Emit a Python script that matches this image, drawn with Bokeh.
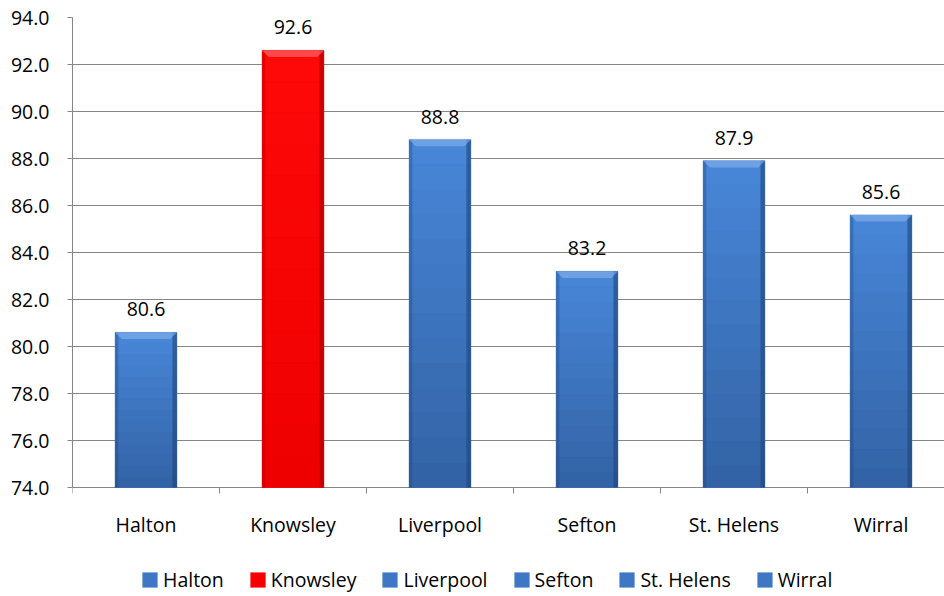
import math
from bokeh.plotting import figure
from bokeh.models import (Range1d, FixedTicker, NumeralTickFormatter, Legend,
                          LegendItem, ColumnDataSource)
from bokeh.core.properties import value
from bokeh.embed import file_html
from bokeh.resources import INLINE

# Percentages by local authority
areas = ["Halton", "Knowsley", "Liverpool", "Sefton", "St. Helens", "Wirral"]
values = [80.6, 92.6, 88.8, 83.2, 87.9, 85.6]
top_colors = ["#4887D8", "#FF0808", "#4887D8", "#4887D8", "#4887D8", "#4887D8"]
bottom_colors = ["#3262A5", "#EE0000", "#3262A5", "#3262A5", "#3262A5", "#3262A5"]
swatch_colors = ["#3E78C4", "#F80000", "#3E78C4", "#3E78C4", "#3E78C4", "#3E78C4"]
edge_colors = ["#1F4477", "#A80000", "#1F4477", "#1F4477", "#1F4477", "#1F4477"]
bevel_colors = ["#8DB8EE", "#FF8080", "#8DB8EE", "#8DB8EE", "#8DB8EE", "#8DB8EE"]
y_ticks = [74, 76, 78, 80, 82, 84, 86, 88, 90, 92, 94]

FONT = "Open Sans"
FS = "19.5px"
AXIS_GREY = "#868686"
n = len(areas)
base = y_ticks[0]
centers = [i + 0.5 for i in range(n)]
boundaries = list(range(n + 1))
half = 0.21

# plot area: 470 px for the value axis, plus room underneath for the
# category labels and the legend
PX_PER_UNIT = 470 / (y_ticks[-1] - base)
y_low = base - 109 / PX_PER_UNIT


def hex_rgb(h):
    return tuple(int(h[k:k + 2], 16) for k in (1, 3, 5))


def mix(c0, c1, t):
    a, b = hex_rgb(c0), hex_rgb(c1)
    return "#%02x%02x%02x" % tuple(round(a[k] + (b[k] - a[k]) * t) for k in range(3))


p = figure(frame_width=872, frame_height=579, output_backend="svg",
           toolbar_location=None,
           x_range=Range1d(0, 872 / 147), y_range=Range1d(y_low, y_ticks[-1]),
           min_border_left=72, min_border_top=17, min_border_right=0,
           min_border_bottom=0)
p.outline_line_color = None
p.background_fill_color = "white"
p.border_fill_color = "white"

p.xgrid.grid_line_color = None
p.ygrid.ticker = FixedTicker(ticks=y_ticks)
p.ygrid.grid_line_color = AXIS_GREY
p.ygrid.grid_line_width = 1
p.ygrid.level = "underlay"

left = [c - half for c in centers]
right = [c + half for c in centers]
src = ColumnDataSource(dict(
    area=areas, value=values, x=centers, left=left, right=right,
    base=[base] * n, color=swatch_colors,
    label=[f"{v:.1f}" for v in values],
))

# bar bodies (also used for the legend swatches)
bars = p.quad(left="left", right="right", bottom="base", top="value",
              fill_color="color", line_color=None, source=src)

# vertical shading: bands from the bottom colour up to the top colour
bands = 14
bl, br, bb, bt, bc = [], [], [], [], []
for i, v in enumerate(values):
    for j in range(bands):
        bl.append(left[i])
        br.append(right[i])
        bb.append(base + (v - base) * j / bands)
        bt.append(base + (v - base) * (j + 1) / bands)
        bc.append(mix(bottom_colors[i], top_colors[i], (j + 0.5) / bands))
p.quad(left=bl, right=br, bottom=bb, top=bt, fill_color=bc, line_color=bc,
       line_width=0.5)

# darker sides for a rounded look
ew_l, ew_r = 0.022, 0.03
p.quad(left=left, right=[l + ew_l for l in left], bottom=[base] * n, top=values,
       fill_color=edge_colors, fill_alpha=0.35, line_color=None)
p.quad(left=[r - ew_r for r in right], right=right, bottom=[base] * n, top=values,
       fill_color=edge_colors, fill_alpha=0.6, line_color=None)

# lighter bevel on the top face
dx, dy = 0.045, 0.28
p.patches(xs=[[l, r, r - dx, l + dx] for l, r in zip(left, right)],
          ys=[[v, v, v - dy, v - dy] for v in values],
          fill_color=bevel_colors, fill_alpha=0.55, line_color=None)

# value labels
p.text(x="x", y="value", text="label", source=src, text_align="center",
       text_baseline="alphabetic", y_offset=-23, text_font_size=FS,
       text_font=value(FONT), text_color="black")

# y axis, its line limited to the value range
p.yaxis.ticker = FixedTicker(ticks=y_ticks)
p.yaxis.bounds = (base, y_ticks[-1])
p.yaxis.formatter = NumeralTickFormatter(format="0.0")
p.yaxis.axis_line_color = AXIS_GREY
p.yaxis.major_tick_line_color = AXIS_GREY
p.yaxis.major_tick_out = 5
p.yaxis.major_tick_in = 0
p.yaxis.minor_tick_line_color = None
p.yaxis.major_label_standoff = 18
p.yaxis.major_label_text_font_size = FS
p.yaxis.major_label_text_font = FONT
p.yaxis.major_label_text_color = "black"

# category axis along the 74.0 line: boundary ticks and centred labels
p.xaxis.visible = False
p.ray(x=boundaries, y=[base] * len(boundaries), length=6, length_units="screen",
      angle=-math.pi / 2, line_color=AXIS_GREY, line_width=1)
p.text(x=centers, y=[base] * n, text=areas, text_align="center",
       text_baseline="alphabetic", y_offset=37, text_font_size=FS,
       text_font=value(FONT), text_color="black")

legend = Legend(
    items=[LegendItem(label=a, renderers=[bars], index=i) for i, a in enumerate(areas)],
    orientation="horizontal", location=(68, 3),
    label_text_font=FONT, label_text_font_size=FS, label_text_color="black",
    glyph_width=19, glyph_height=19, label_standoff=4, spacing=24,
    border_line_color=None, background_fill_alpha=0, margin=0, padding=0,
)
p.add_layout(legend, "center")

open("out.html", "w").write(file_html(p, INLINE))
